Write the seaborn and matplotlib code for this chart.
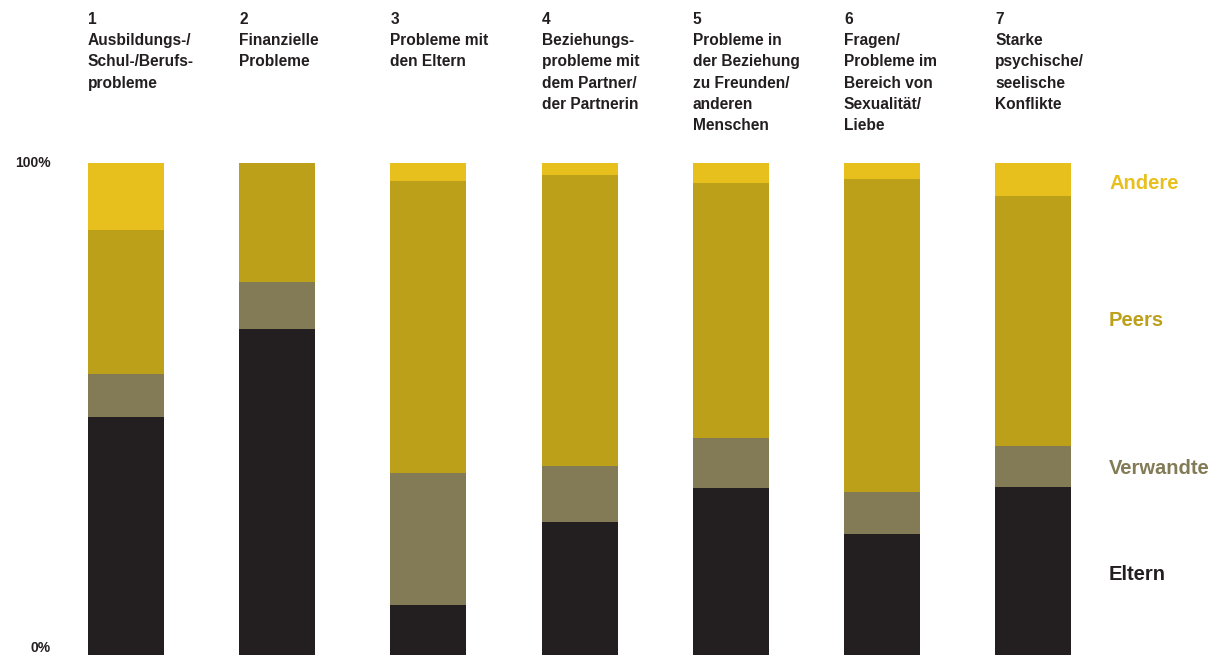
import numpy as np
import pandas as pd
import matplotlib
matplotlib.use("Agg")
import matplotlib.pyplot as plt
import seaborn as sns

categories = [
    "1\nAusbildungs-/\nSchul-/Berufs-\nprobleme",
    "2\nFinanzielle\nProbleme",
    "3\nProbleme mit\nden Eltern",
    "4\nBeziehungs-\nprobleme mit\ndem Partner/\nder Partnerin",
    "5\nProbleme in\nder Beziehung\nzu Freunden/\nanderen\nMenschen",
    "6\nFragen/\nProbleme im\nBereich von\nSexualität/\nLiebe",
    "7\nStarke\npsychische/\nseelische\nKonflikte",
]
eltern = [48.4, 66.3, 10.2, 27.0, 33.9, 24.6, 34.1]
verwandte = [8.7, 9.5, 26.8, 11.4, 10.2, 8.5, 8.4]
peers = [29.3, 24.2, 59.3, 59.2, 51.8, 63.6, 50.8]
andere = [13.6, 0.0, 3.7, 2.4, 4.1, 3.3, 6.7]
series_names = ["Eltern", "Verwandte", "Peers", "Andere"]
colors = {"Eltern": "#231f20", "Verwandte": "#837b56", "Peers": "#bda019", "Andere": "#e8c01d"}
y_tick_labels = ["0%", "100%"]

sns.set_theme(style="white")
plt.rcParams["font.family"] = ["Liberation Sans", "DejaVu Sans"]

W, H = 1228, 656
fig = plt.figure(figsize=(W / 100, H / 100), dpi=100)
step = 151.2
left_px = 126 - step / 2
ax = fig.add_axes([left_px / W, 1 / H, 7 * step / W, 492 / H])

ids = [str(i) for i in range(len(categories))]
df = pd.DataFrame({"cat": ids, "Eltern": eltern, "Verwandte": verwandte,
                   "Peers": peers, "Andere": andere})
cum = df[series_names].cumsum(axis=1)

for name in reversed(series_names):
    sns.barplot(data=cum.assign(cat=ids), x="cat", y=name, order=ids,
                color=colors[name], saturation=1, width=0.503, ax=ax,
                linewidth=0)

ax.set_xlim(-0.5, 6.5)
ax.set_ylim(0, 100)
ax.axis("off")

# category labels
for i, lab in enumerate(categories):
    xpx = 88 + i * step
    fig.text(xpx / W, 1 - 12 / H, lab, ha="left", va="top", fontsize=11.2,
             fontweight="bold", color="#231f20", linespacing=1.52)

# y labels
fig.text(51 / W, 1 - 163 / H, y_tick_labels[1], ha="right", va="center",
         fontsize=10, fontweight="bold", color="#231f20")
fig.text(51 / W, 1 - 648 / H, y_tick_labels[0], ha="right", va="center",
         fontsize=10, fontweight="bold", color="#231f20")

# legend labels
leg_y = {"Andere": 183, "Peers": 321, "Verwandte": 468, "Eltern": 575}
for name in series_names:
    fig.text(1109 / W, 1 - leg_y[name] / H, name, ha="left", va="center",
             fontsize=14.5, fontweight="bold", color=colors[name])

fig.savefig("out.png", dpi=100)
